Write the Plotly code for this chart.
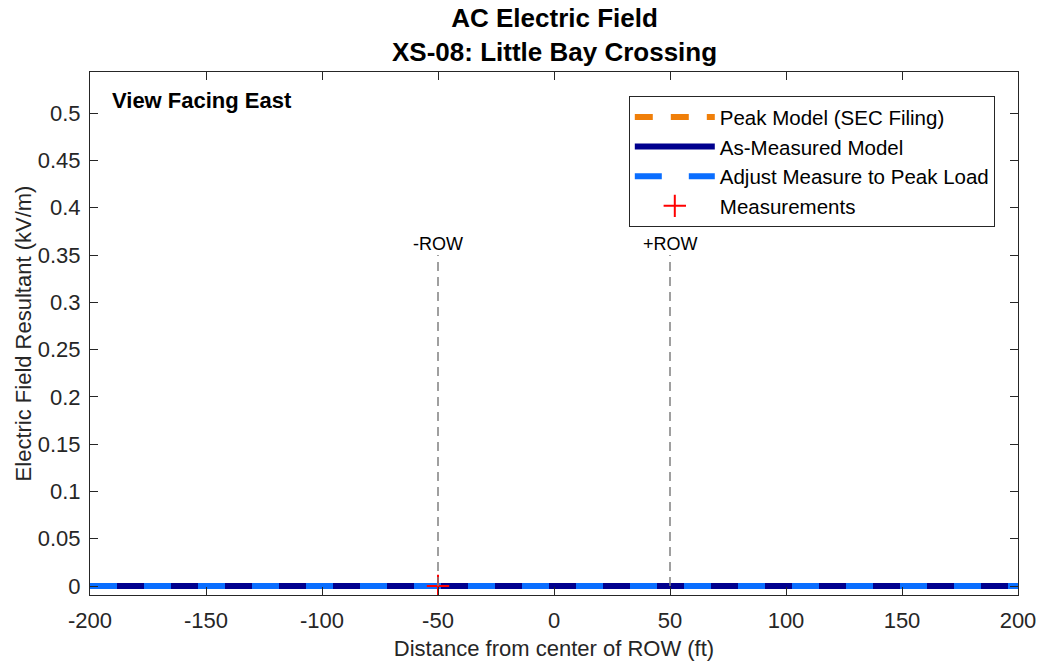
import plotly.graph_objects as go

# Data
distance_ft = [-200, -150, -100, -50, 0, 50, 100, 150, 200]
peak_model_kvm = [0, 0, 0, 0, 0, 0, 0, 0, 0]
as_measured_kvm = [0, 0, 0, 0, 0, 0, 0, 0, 0]
adjusted_kvm = [0, 0, 0, 0, 0, 0, 0, 0, 0]
meas_distance_ft = [-50]
meas_kvm = [0]
row_edges_ft = [-50, 50]
row_labels = ["-ROW", "+ROW"]
row_line_top = 0.35
x_ticks = [-200, -150, -100, -50, 0, 50, 100, 150, 200]
y_ticks = [0, 0.05, 0.1, 0.15, 0.2, 0.25, 0.3, 0.35, 0.4, 0.45, 0.5]

FONT = "Liberation Sans, Arial, Helvetica, sans-serif"
TXT = "#262626"

fig = go.Figure()
fig.add_trace(go.Scatter(x=distance_ft, y=peak_model_kvm, mode="lines",
                         name="Peak Model (SEC Filing)",
                         line=dict(color="#F07F09", width=6, dash="dash")))
fig.add_trace(go.Scatter(x=distance_ft, y=as_measured_kvm, mode="lines",
                         name="As-Measured Model",
                         line=dict(color="#00008E", width=6)))
fig.add_trace(go.Scatter(x=distance_ft, y=adjusted_kvm, mode="lines",
                         name="Adjust Measure to Peak Load",
                         line=dict(color="#0A6EFF", width=6, dash="27px,27px")))

fig.add_trace(go.Scatter(x=meas_distance_ft, y=meas_kvm, mode="markers",
                         name="Measurements",
                         marker=dict(symbol="cross-thin", size=16, color="#FF0000",
                                     line=dict(color="#FF0000", width=2))))

for xe, lab in zip(row_edges_ft, row_labels):
    fig.add_trace(go.Scatter(x=[xe, xe], y=[0, row_line_top], mode="lines",
                             showlegend=False, hoverinfo="skip",
                             line=dict(color="#808080", width=1.5, dash="9px,6px")))
    fig.add_annotation(x=xe, y=row_line_top, text=lab, showarrow=False,
                       yanchor="bottom", xanchor="center", yshift=-1,
                       font=dict(family=FONT, size=18, color="black"))

fig.add_annotation(x=0.0216, y=0.974, xref="paper", yref="paper",
                   text="<b>View Facing East</b>", showarrow=False,
                   xanchor="left", yanchor="top",
                   font=dict(family=FONT, size=22, color="black"))

fig.add_annotation(x=0.5, y=1, xref="paper", yref="paper",
                   text="<b>AC Electric Field<br>XS-08: Little Bay Crossing</b>",
                   showarrow=False, xanchor="center", yanchor="bottom", yshift=3,
                   font=dict(family=FONT, size=26, color="black"))

fig.update_layout(
    width=1042, height=662,
    margin=dict(l=90, r=24, t=72, b=67, autoexpand=False),
    paper_bgcolor="white", plot_bgcolor="white",
    font=dict(family=FONT, size=22, color=TXT),
    legend=dict(x=0.975, y=0.954, xanchor="right", yanchor="top",
                bordercolor="#262626", borderwidth=1, bgcolor="white",
                font=dict(family=FONT, size=20.5, color="black"),
                tracegroupgap=0, itemwidth=80),
    showlegend=True,
)
fig.update_xaxes(range=[-200, 200], tickvals=x_ticks,
                 ticktext=[str(v) for v in x_ticks], automargin=False,
                 ticks="inside", ticklen=8, tickcolor="#262626",
                 showline=True, linecolor="#262626", linewidth=1, mirror="ticks",
                 showgrid=False, zeroline=False, ticklabelstandoff=6,
                 title=dict(text="Distance from center of ROW (ft)", standoff=8,
                            font=dict(family=FONT, size=22, color=TXT)),
                 tickfont=dict(family=FONT, size=22, color=TXT))
fig.update_yaxes(range=[-0.0095, 0.5435], tickvals=y_ticks,
                 ticktext=[("%g" % v) for v in y_ticks], automargin=False,
                 ticks="inside", ticklen=8, tickcolor="#262626",
                 showline=True, linecolor="#262626", linewidth=1, mirror="ticks",
                 showgrid=False, zeroline=False, ticklabelstandoff=4,
                 title=dict(text="Electric Field Resultant (kV/m)", standoff=0,
                            font=dict(family=FONT, size=22, color=TXT)),
                 tickfont=dict(family=FONT, size=22, color=TXT))

fig.write_html("out.html")
